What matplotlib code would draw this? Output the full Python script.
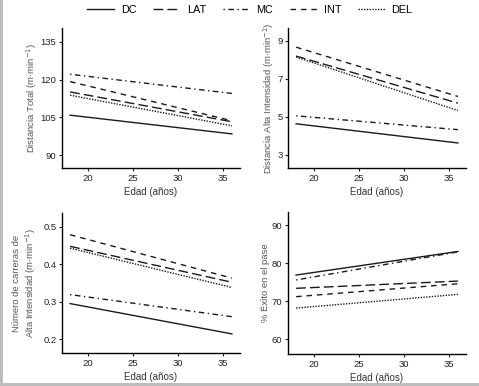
import matplotlib
matplotlib.use("Agg")
import matplotlib.pyplot as plt
from matplotlib.lines import Line2D
from matplotlib.patches import Rectangle

plt.rcParams["font.family"] = ["Liberation Sans", "DejaVu Sans"]

# edades extremas de las rectas ajustadas
edad = [18, 36]
posiciones = ["DC", "LAT", "MC", "INT", "DEL"]

# valores (inicio, final) por posicion y panel
dist_total = {"DC": [105.9, 98.5], "LAT": [115.1, 103.3], "MC": [122.1, 114.5],
              "INT": [119.2, 103.7], "DEL": [113.8, 101.7]}
dist_alta = {"DC": [4.63, 3.62], "LAT": [8.20, 5.72], "MC": [5.05, 4.32],
             "INT": [8.67, 6.07], "DEL": [8.15, 5.33]}
carreras = {"DC": [0.295, 0.214], "LAT": [0.448, 0.352], "MC": [0.319, 0.260],
            "INT": [0.479, 0.363], "DEL": [0.443, 0.338]}
exito_pase = {"DC": [76.9, 83.1], "LAT": [73.4, 75.3], "MC": [75.6, 83.0],
              "INT": [71.2, 74.6], "DEL": [68.2, 71.8]}

xticks = [20, 25, 30, 35]
yticks_1 = [90, 105, 120, 135]
yticks_2 = [3, 5, 7, 9]
yticks_3 = [0.2, 0.3, 0.4, 0.5]
yticks_4 = [60, 70, 80, 90]

estilos = {
    "DC": dict(linestyle="-"),
    "LAT": dict(linestyle=(0, (7, 3))),
    "MC": dict(linestyle=(0, (1, 2.5, 4, 2.5))),
    "INT": dict(linestyle=(0, (4, 3.5))),
    "DEL": dict(linestyle=(0, (1, 1))),
}

W, H = 479, 386
fig = plt.figure(figsize=(W / 100, H / 100), dpi=100)
fig.patch.set_facecolor("white")


def add_ax(left, top, right, bottom):
    return fig.add_axes([left / W, 1 - bottom / H, (right - left) / W, (bottom - top) / H])


def panel(ax, datos, yticks, ylim, ylabel, ytickfmt=None, ypad=2):
    for p in posiciones:
        ax.plot(edad, datos[p], color="#1a1a1a", lw=1.0, **estilos[p])
    ax.set_xlim(17.1, 36.9)
    ax.set_ylim(*ylim)
    ax.set_xticks(xticks)
    ax.set_yticks(yticks)
    if ytickfmt:
        ax.set_yticklabels([ytickfmt.format(v) for v in yticks])
    for s in ["top", "right"]:
        ax.spines[s].set_visible(False)
    for s in ["left", "bottom"]:
        ax.spines[s].set_linewidth(1.0)
    ax.tick_params(length=2.5, width=0.8, labelsize=6.8, pad=1.5, colors="#222222")
    ax.set_xlabel("Edad (años)", fontsize=7.0, color="#333333", labelpad=3.5)
    ax.set_ylabel(ylabel, fontsize=6.8, color="#555555", labelpad=ypad)


ax1 = add_ax(62, 28, 240, 168)
panel(ax1, dist_total, yticks_1, (85, 140.4), "Distancia Total (m·min$^{-1}$)", ypad=1)

ax2 = add_ax(288, 28, 466, 168)
panel(ax2, dist_alta, yticks_2, (2.3, 9.68), "Distancia Alta Intensidad (m·min$^{-1}$)", ypad=1)

ax3 = add_ax(62, 213, 240, 353)
panel(ax3, carreras, yticks_3, (0.163, 0.537),
      "Número de carreras de\nAlta Intensidad (m·min$^{-1}$)", "{:.1f}", ypad=4)

ax4 = add_ax(288, 212, 466, 354)
panel(ax4, exito_pase, yticks_4, (56.1, 93.5), "% Éxito en el pase", ypad=1)

# leyenda superior
handles = [Line2D([0], [0], color="#1a1a1a", lw=1.0, **estilos[p]) for p in posiciones]
fig.legend(handles, posiciones, loc="center", bbox_to_anchor=(250 / W, 1 - 10 / H),
           ncol=5, frameon=False, fontsize=7.8, handlelength=2.5, handletextpad=0.6,
           columnspacing=1.55)

# marco gris del recorte
fig.add_artist(Rectangle((0, 0), 3 / W, 1, transform=fig.transFigure,
                         color="#bdbdbd", lw=0))
fig.add_artist(Rectangle((0, 0), 1, 3 / H, transform=fig.transFigure,
                         color="#bdbdbd", lw=0))

fig.savefig("out.png", dpi=100)
